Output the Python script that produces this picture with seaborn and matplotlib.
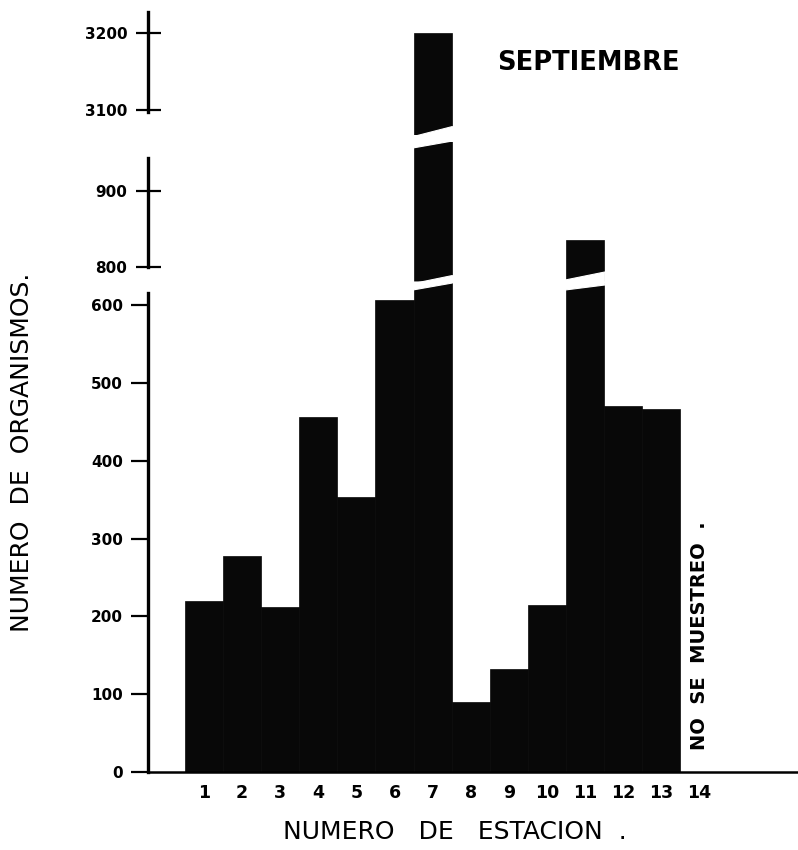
import numpy as np
import pandas as pd
import matplotlib
matplotlib.use("Agg")
import matplotlib.pyplot as plt
from matplotlib.patches import Polygon
import seaborn as sns

# Organism counts per sampling station, September
stations = [1, 2, 3, 4, 5, 6, 7, 8, 9, 10, 11, 12, 13]
counts = [220, 277, 212, 456, 353, 607, 3200, 90, 132, 215, 835, 470, 467]
station_labels = [str(i) for i in range(1, 15)]

# Broken y-axis segments: (ylim, ticks, spine bounds)
seg_low = dict(ylim=(0, 628.3), ticks=[0, 100, 200, 300, 400, 500, 600], bounds=(0, 615))
seg_mid = dict(ylim=(780.3, 964.5), ticks=[800, 900], bounds=(800, 943))
seg_top = dict(ylim=(3067.5, 3227.3), ticks=[3100, 3200], bounds=(3097, 3227))

df = pd.DataFrame({"estacion": stations, "organismos": counts})

sns.set_theme(style="white")
plt.rcParams["font.family"] = ["DejaVu Sans"]
plt.rcParams.update({"text.color": "black", "xtick.color": "black",
                     "ytick.color": "black", "axes.labelcolor": "black"})

W, H = 798, 850
fig = plt.figure(figsize=(W / 100, H / 100), dpi=100)


def px_axes(left, top, right, bottom):
    return fig.add_axes([left / W, 1 - bottom / H, (right - left) / W, (bottom - top) / H])


ax_top = px_axes(148, 12, 798, 135)
ax_mid = px_axes(148, 142, 798, 282)
ax_bot = px_axes(148, 283, 798, 772)

xlim = (-0.47, 16.59)
bar_color = "#080808"

for ax, seg in [(ax_top, seg_top), (ax_mid, seg_mid), (ax_bot, seg_low)]:
    sns.barplot(data=df, x="estacion", y="organismos", native_scale=True,
                width=1.0, color=bar_color, saturation=1, errorbar=None,
                edgecolor=bar_color, linewidth=0.5, ax=ax)
    ax.set_xlim(*xlim)
    ax.set_ylim(*seg["ylim"])
    ax.set_xlabel("")
    ax.set_ylabel("")
    ax.set_facecolor("none")
    for s in ["top", "right"]:
        ax.spines[s].set_visible(False)
    ax.spines["left"].set_linewidth(2.4)
    ax.spines["left"].set_color("black")
    ax.spines["left"].set_bounds(*seg["bounds"])
    ax.set_yticks(seg["ticks"])
    ax.set_yticklabels([str(t) for t in seg["ticks"]], fontsize=11, fontweight="bold",
                       color="black")
    ax.tick_params(axis="y", left=True, length=12, width=1.6, color="black", pad=6,
                   direction="out")

for ax in (ax_top, ax_mid):
    ax.spines["bottom"].set_visible(False)
    ax.set_xticks([])
    ax.tick_params(axis="y", direction="inout", length=18)

ax_bot.spines["bottom"].set_linewidth(1.8)
ax_bot.spines["bottom"].set_color("black")
ax_bot.set_xticks(range(1, 15))
ax_bot.set_xticklabels(station_labels, fontsize=12.5, fontweight="bold", color="black")
ax_bot.tick_params(axis="x", bottom=False, pad=3)


def cut(ax, x0, x1, pts_px):
    """White wedge that makes the slanted break across a bar."""
    h = ax.get_position().height * H
    verts = [(x0 + fx * (x1 - x0), fy + dy / h) for fx, fy, dy in pts_px]
    ax.add_patch(Polygon(verts, closed=True, facecolor="white", edgecolor="white",
                         lw=0.8, transform=ax.get_xaxis_transform(), clip_on=False,
                         zorder=10))


i7 = stations.index(7)
i11 = stations.index(11)
b7 = (stations[i7] - 0.52, stations[i7] + 0.52)
b11 = (stations[i11] - 0.52, stations[i11] + 0.52)

# bottom of the upper piece of bar 7
cut(ax_top, *b7, [(0, 0, -1), (1, 0, -1), (1, 0, 9)])
# top and bottom of the middle pieces
cut(ax_mid, *b7, [(0, 1, 1), (1, 1, 1), (0, 1, -6)])
cut(ax_mid, *b7, [(0, 0, -1), (1, 0, -1), (1, 0, 7)])
cut(ax_mid, *b11, [(0, 0, -1), (1, 0, -1), (1, 0, 10), (0, 0, 2)])
# top of the lower pieces
cut(ax_bot, *b7, [(0, 1, 1), (1, 1, 1), (1, 1, 0), (0, 1, -7)])
cut(ax_bot, *b11, [(0, 1, 1), (1, 1, 1), (1, 1, -2), (0, 1, -7)])

ax_bot.text(14.0, 175, "NO  SE  MUESTREO  .", rotation=90, ha="center", va="center",
            fontsize=14, fontweight="bold", color="black")

fig.text(588 / W, 1 - 63 / H, "SEPTIEMBRE", ha="center", va="center",
         fontsize=18.5, fontweight="bold", color="black")
fig.text(455 / W, 1 - 832 / H, "NUMERO   DE   ESTACION  .", ha="center", va="center",
         fontsize=18, color="black")
fig.text(22 / W, 1 - 452 / H, "NUMERO  DE  ORGANISMOS.", ha="center", va="center",
         rotation=90, fontsize=18, color="black")

fig.savefig("out.png", dpi=100, facecolor="white")
